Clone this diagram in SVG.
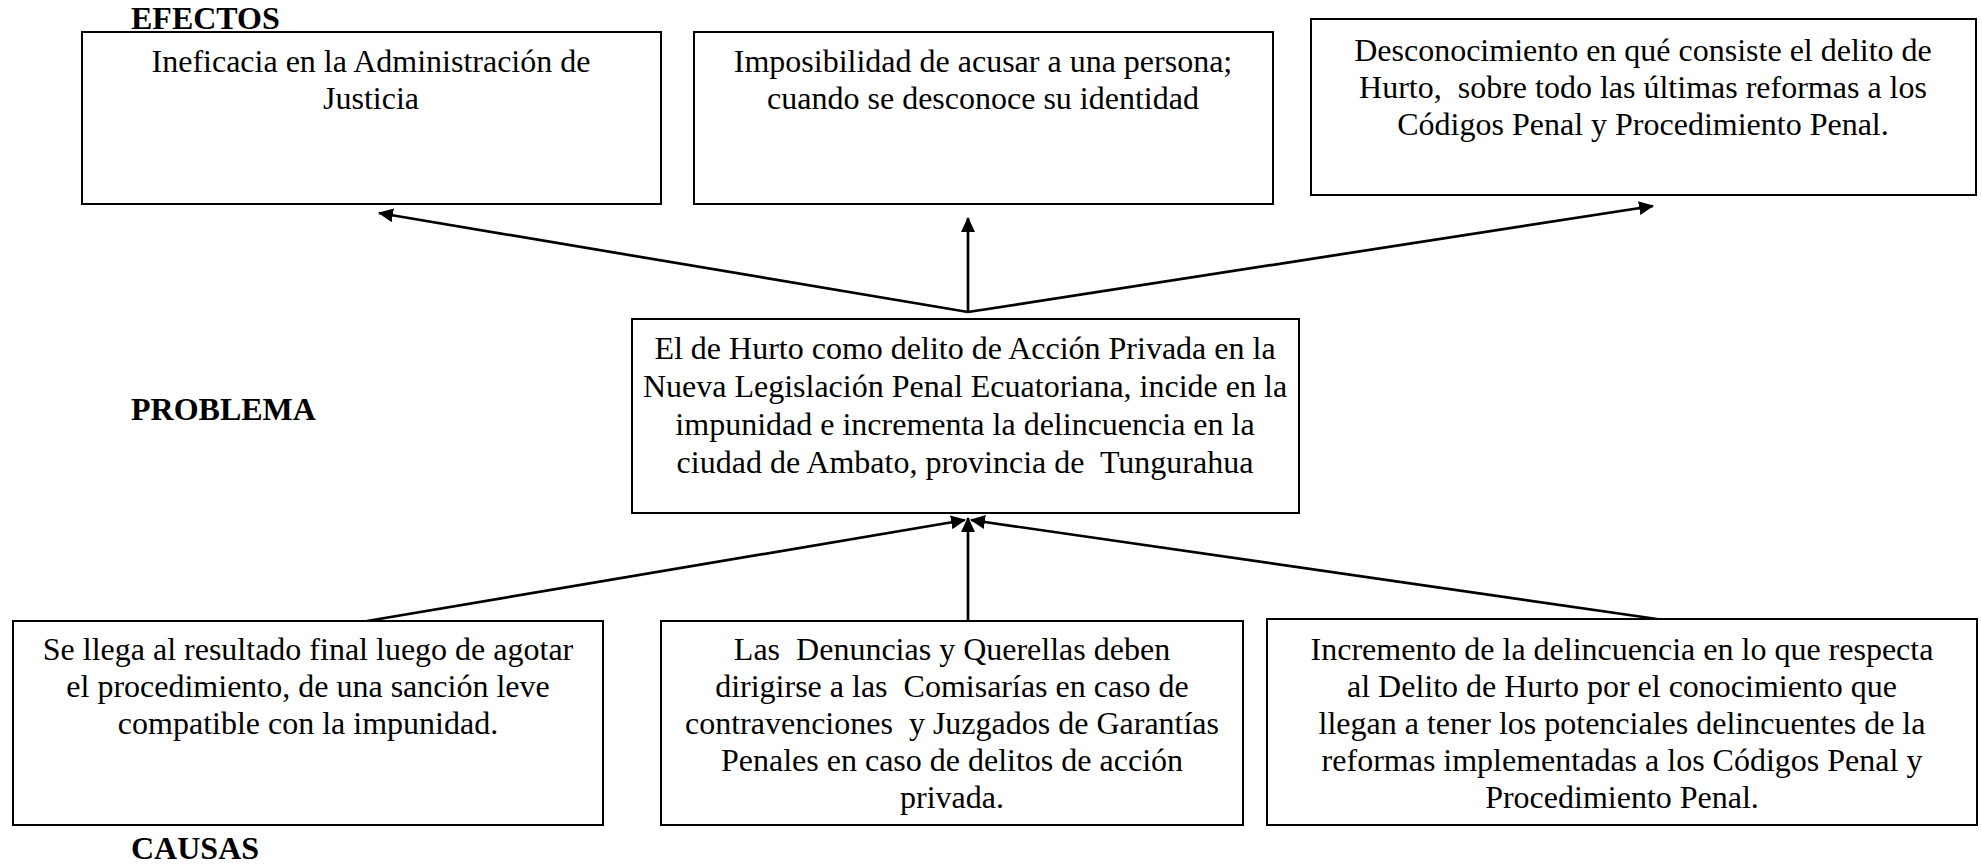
<svg xmlns="http://www.w3.org/2000/svg" width="1982" height="864" viewBox="0 0 1982 864">
<defs>
<style>
.box{fill:#fff;stroke:#000;stroke-width:2}
.t{font-family:"Liberation Serif","Times New Roman",serif;font-size:32px;fill:#000;text-anchor:middle;white-space:pre}
.h{font-family:"Liberation Serif","Times New Roman",serif;font-size:32px;font-weight:bold;fill:#000}
.c{stroke:#000;stroke-width:2.7;fill:none;marker-end:url(#ah)}
</style>
<marker id="ah" viewBox="0 0 15 14" refX="14" refY="7" markerWidth="15" markerHeight="14" markerUnits="userSpaceOnUse" orient="auto">
<path d="M0,0 L15,7 L0,14 z" fill="#000"/>
</marker>
</defs>
<rect width="1982" height="864" fill="#fff"/>
<text class="h" x="131" y="29">EFECTOS</text>
<text class="h" x="131" y="420">PROBLEMA</text>
<text class="h" x="131" y="859">CAUSAS</text>
<g id="connectors">
<line class="c" x1="968" y1="312" x2="379" y2="213"/>
<line class="c" x1="968" y1="312" x2="968" y2="218"/>
<line class="c" x1="968" y1="312" x2="1653" y2="206"/>
<line class="c" x1="367" y1="621" x2="965" y2="520"/>
<line class="c" x1="968" y1="621" x2="968" y2="518"/>
<line class="c" x1="1657" y1="619" x2="971" y2="520"/>
</g>
<g id="efecto1">
<rect class="box" x="82" y="32" width="579" height="172"/>
<text class="t"><tspan x="371" y="72">Ineficacia en la Administración de</tspan><tspan x="371" y="109">Justicia</tspan></text>
</g>
<g id="efecto2">
<rect class="box" x="694" y="32" width="579" height="172"/>
<text class="t"><tspan x="983" y="72">Imposibilidad de acusar a una persona;</tspan><tspan x="983" y="109">cuando se desconoce su identidad</tspan></text>
</g>
<g id="efecto3">
<rect class="box" x="1311" y="19" width="665" height="176"/>
<text class="t"><tspan x="1643" y="61">Desconocimiento en qué consiste el delito de</tspan><tspan x="1643" y="98">Hurto,  sobre todo las últimas reformas a los</tspan><tspan x="1643" y="135">Códigos Penal y Procedimiento Penal.</tspan></text>
</g>
<g id="problema">
<rect class="box" x="632" y="319" width="667" height="194"/>
<text class="t"><tspan x="965" y="359">El de Hurto como delito de Acción Privada en la</tspan><tspan x="965" y="397">Nueva Legislación Penal Ecuatoriana, incide en la</tspan><tspan x="965" y="435">impunidad e incrementa la delincuencia en la</tspan><tspan x="965" y="473">ciudad de Ambato, provincia de  Tungurahua</tspan></text>
</g>
<g id="causa1">
<rect class="box" x="13" y="621" width="590" height="204"/>
<text class="t"><tspan x="308" y="660">Se llega al resultado final luego de agotar</tspan><tspan x="308" y="697">el procedimiento, de una sanción leve</tspan><tspan x="308" y="734">compatible con la impunidad.</tspan></text>
</g>
<g id="causa2">
<rect class="box" x="661" y="621" width="582" height="204"/>
<text class="t"><tspan x="952" y="660">Las  Denuncias y Querellas deben</tspan><tspan x="952" y="697">dirigirse a las  Comisarías en caso de</tspan><tspan x="952" y="734">contravenciones  y Juzgados de Garantías</tspan><tspan x="952" y="771">Penales en caso de delitos de acción</tspan><tspan x="952" y="808">privada.</tspan></text>
</g>
<g id="causa3">
<rect class="box" x="1267" y="619" width="710" height="206"/>
<text class="t"><tspan x="1622" y="660">Incremento de la delincuencia en lo que respecta</tspan><tspan x="1622" y="697">al Delito de Hurto por el conocimiento que</tspan><tspan x="1622" y="734">llegan a tener los potenciales delincuentes de la</tspan><tspan x="1622" y="771">reformas implementadas a los Códigos Penal y</tspan><tspan x="1622" y="808">Procedimiento Penal.</tspan></text>
</g>
</svg>
